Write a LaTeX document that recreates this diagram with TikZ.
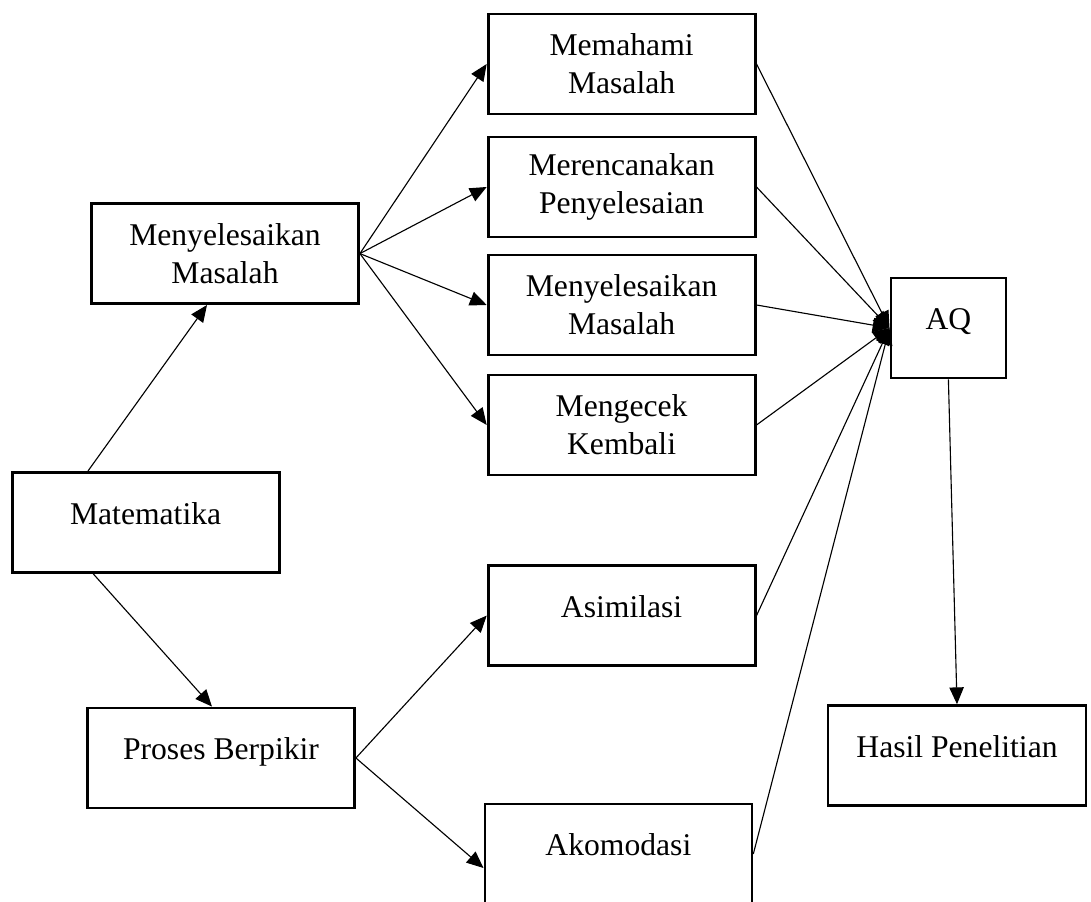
\documentclass[tikz,border=0pt]{standalone}
\usepackage{fontspec}
\setmainfont{Liberation Serif}
\usetikzlibrary{arrows.meta}

\begin{document}
\begin{tikzpicture}[box/.style = {draw, line width=2pt, minimum width=6.675cm, minimum height=2.5cm, inner sep=0pt, align=center, font=\fontsize{22.5}{27}\selectfont}, one/.style = {text height=0.4cm, text depth=0.3cm}, arr/.style = {line width=0.8pt, -{Triangle[length=0.42cm,width=0.36cm]}}] 
			\useasboundingbox (0,0) rectangle (27.275,22.55);
			\node[box] (memahami) at (15.54,20.95) {Memahami\\Masalah}; 
			\node[box] (rencana) at (15.54,17.875) {Merencanakan\\Penyelesaian};
			\node[box] (selesai2) at (15.54,14.925) {Menyelesaikan\\Masalah};
			\node[box] (cek) at (15.54,11.925) {Mengecek\\Kembali};
			\node[box, one] (asimilasi) at (15.54,7.16) {Asimilasi};
			\node[box, one] (akomodasi) at (15.46,1.2) {Akomodasi};
			\node[box] (selesai1) at (5.625,16.21) {Menyelesaikan\\Masalah};
			\node[box, one] (mat) at (3.64,9.49) {Matematika};
			\node[box, one] (proses) at (5.525,3.6) {Proses Berpikir};
			\node[box, one, minimum width=2.875cm] (aq) at (23.71,14.35) {AQ};
			\node[box, one, minimum width=6.45cm] (hasil) at (23.925,3.66) {Hasil Penelitian};
			\draw[arr] ([xshift=-1.44cm]mat.north) -- ([xshift=-0.45cm]selesai1.south);
			\draw[arr] ([xshift=-1.31cm]mat.south) -- ([xshift=-0.225cm]proses.north);
			\draw[arr] (selesai1.east) -- (memahami.west);
			\draw[arr] (selesai1.east) -- (rencana.west);
			\draw[arr] (selesai1.east) -- (selesai2.west);
			\draw[arr] (selesai1.east) -- (cek.west);
			\draw[arr] (proses.east) -- (asimilasi.west);
			\draw[arr] (proses.east) -- ([yshift=-0.35cm]akomodasi.west);
			\draw[arr] (memahami.east) -- (aq.west);
			\draw[arr] (rencana.east) -- (aq.west);
			\draw[arr] (selesai2.east) -- (aq.west);
			\draw[arr] (cek.east) -- (aq.west);
			\draw[arr] (asimilasi.east) -- (aq.west);
			\draw[arr] (akomodasi.east) -- (aq.west);
			\draw[arr] (aq.south) -- (hasil.north);
		\end{tikzpicture}
\end{document}
